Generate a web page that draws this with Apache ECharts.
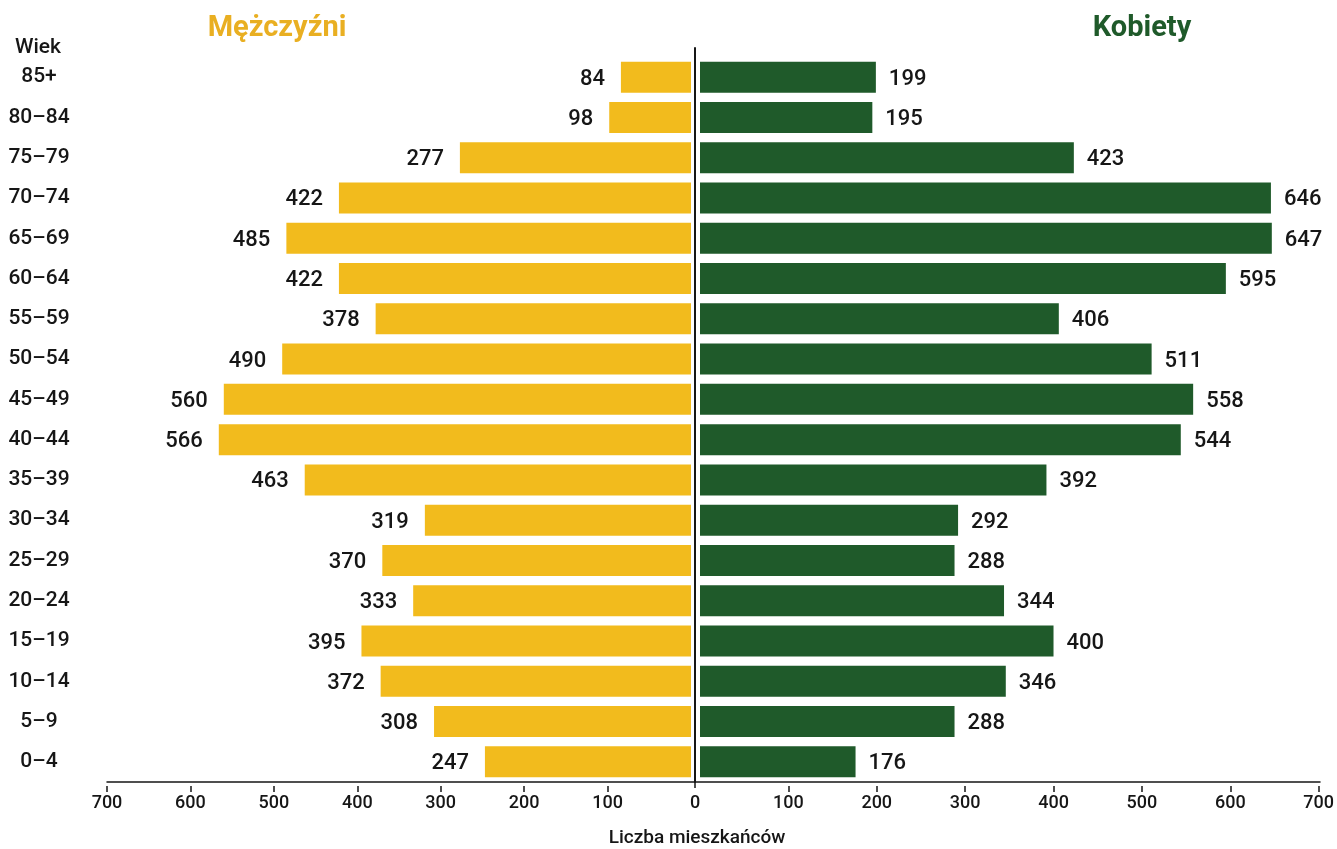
<!DOCTYPE html>
<html>
<head>
<meta charset="utf-8">
<script src="https://cdn.jsdelivr.net/npm/echarts@6/dist/echarts.min.js"></script>
<style>html,body{margin:0;padding:0;background:#fff}#c{width:1337px;height:849px}</style>
</head>
<body>
<div id="c"></div>
<script>
const ageGroups = ['85+','80–84','75–79','70–74','65–69','60–64','55–59','50–54','45–49','40–44','35–39','30–34','25–29','20–24','15–19','10–14','5–9','0–4'];
const men   = [84, 98, 277, 422, 485, 422, 378, 490, 560, 566, 463, 319, 370, 333, 395, 372, 308, 247];
const women = [199, 195, 423, 646, 647, 595, 406, 511, 558, 544, 392, 292, 288, 344, 400, 346, 288, 176];
const tickValues = [100, 200, 300, 400, 500, 600, 700];
const menLabel = 'Mężczyźni';
const womenLabel = 'Kobiety';
const ageTitle = 'Wiek';
const axisTitle = 'Liczba mieszkańców';

const FONT = 'Roboto, "Liberation Sans", sans-serif';
const YELLOW = '#F2BB1D';
const GREEN = '#1F5A2A';
const TXT = '#161616';

const chart = echarts.init(document.getElementById('c'));
const gTop = 57, gBottom = 67;
const valueAxisCommon = {
  type: 'value', min: 0, max: 700, position: 'bottom', offset: 4,
  axisLine: { show: false },
  axisTick: { show: true, length: 6, lineStyle: { color: TXT, width: 1.5 }, customValues: tickValues },
  axisLabel: { show: true, customValues: tickValues, color: TXT, fontFamily: FONT, fontSize: 18, fontWeight: 500, margin: 8 },
  splitLine: { show: false }
};
chart.setOption({
  animation: false,
  backgroundColor: '#fff',
  grid: [
    { left: 107, right: 1337 - 691, top: gTop, bottom: gBottom },
    { left: 700, right: 17, top: gTop, bottom: gBottom },
    { left: 107, right: 17, top: 48, bottom: gBottom }
  ],
  xAxis: [
    Object.assign({}, valueAxisCommon, { gridIndex: 0, inverse: true }),
    Object.assign({}, valueAxisCommon, { gridIndex: 1 }),
    {
      type: 'value', gridIndex: 2, min: -588, max: 625, position: 'bottom', offset: 4,
      axisLine: { show: true, lineStyle: { color: TXT, width: 1.5 } },
      axisTick: { show: true, length: 6, lineStyle: { color: TXT, width: 1.5 }, customValues: [0] },
      axisLabel: { show: true, customValues: [0], color: TXT, fontFamily: FONT, fontSize: 18, fontWeight: 500, margin: 8 },
      splitLine: { show: false }
    }
  ],
  yAxis: [
    {
      type: 'category', gridIndex: 0, data: ageGroups, inverse: true, position: 'left',
      axisLine: { show: false }, axisTick: { show: false },
      axisLabel: { color: TXT, fontFamily: FONT, fontSize: 21, fontWeight: 500, align: 'center', margin: 68 }
    },
    {
      type: 'category', gridIndex: 1, data: ageGroups, inverse: true,
      axisLine: { show: false }, axisTick: { show: false }, axisLabel: { show: false }
    },
    {
      type: 'value', gridIndex: 2, position: 'left', offset: -588,
      axisLine: { show: true, lineStyle: { color: TXT, width: 2 } },
      axisTick: { show: false }, axisLabel: { show: false }, splitLine: { show: false }
    }
  ],
  series: [
    {
      name: menLabel, type: 'bar', xAxisIndex: 0, yAxisIndex: 0, data: men, barWidth: 31,
      itemStyle: { color: YELLOW },
      label: { show: true, position: 'left', distance: 16, color: TXT, fontFamily: FONT, fontSize: 22, fontWeight: 500, offset: [0, 2] }
    },
    {
      name: womenLabel, type: 'bar', xAxisIndex: 1, yAxisIndex: 1, data: women, barWidth: 31,
      itemStyle: { color: GREEN },
      label: { show: true, position: 'right', distance: 13, color: TXT, fontFamily: FONT, fontSize: 22, fontWeight: 500, offset: [0, 2] }
    }
  ],
  graphic: [
    { type: 'text', x: 277, y: 29, style: { text: menLabel, fill: '#E9AF22', font: 'bold 29px ' + FONT, textAlign: 'center', textVerticalAlign: 'middle' } },
    { type: 'text', x: 1142, y: 29, style: { text: womenLabel, fill: GREEN, font: 'bold 29px ' + FONT, textAlign: 'center', textVerticalAlign: 'middle' } },
    { type: 'text', x: 38, y: 48, style: { text: ageTitle, fill: TXT, font: '500 21px ' + FONT, textAlign: 'center', textVerticalAlign: 'middle' } },
    { type: 'text', x: 697, y: 838, style: { text: axisTitle, fill: TXT, font: '500 19px ' + FONT, textAlign: 'center', textVerticalAlign: 'middle' } }
  ]
});
</script>
</body>
</html>
